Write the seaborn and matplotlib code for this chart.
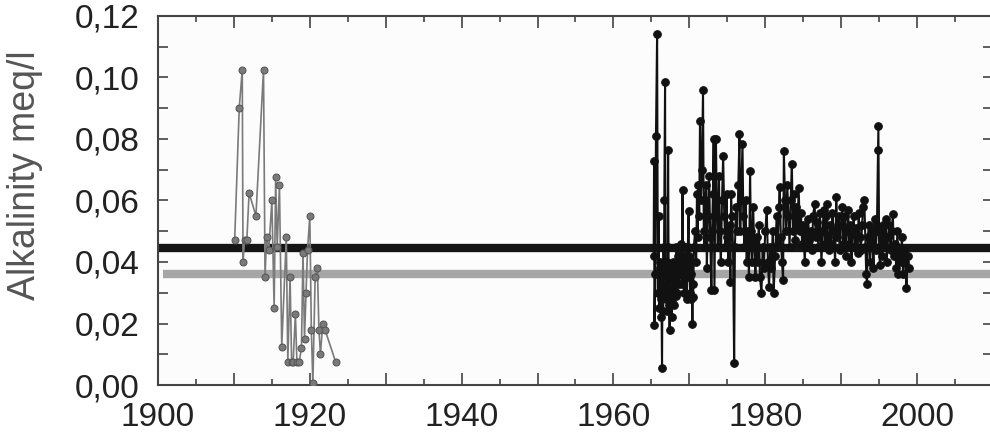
import numpy as np
import pandas as pd
import matplotlib
matplotlib.use("Agg")
import matplotlib.pyplot as plt
import matplotlib.ticker as mticker
import seaborn as sns

# ---- data ----
early_years = [1910.1, 1910.7, 1911.1, 1911.2, 1911.4, 1911.7, 1912.0, 1912.9, 1913.9, 1914.1,
               1914.3, 1914.6, 1915.0, 1915.3, 1915.5, 1915.7, 1916.0, 1916.3, 1916.9, 1917.1,
               1917.4, 1917.6, 1917.8, 1918.1, 1918.3, 1918.6, 1918.9, 1919.1, 1919.3, 1919.5,
               1919.7, 1920.0, 1920.2, 1920.4, 1920.7, 1921.0, 1921.2, 1921.4, 1921.7, 1922.0, 1923.4]
early_vals = [0.047, 0.090, 0.1025, 0.040, 0.047, 0.047, 0.0625, 0.055, 0.1025, 0.035,
              0.048, 0.044, 0.060, 0.025, 0.0675, 0.045, 0.065, 0.0125, 0.048, 0.0075,
              0.035, 0.0075, 0.0075, 0.023, 0.0075, 0.0075, 0.012, 0.043, 0.015, 0.030,
              0.044, 0.055, 0.018, 0.0005, 0.035, 0.038, 0.018, 0.010, 0.020, 0.018, 0.0075]

late_years = [1965.3, 1965.35, 1965.4, 1965.5, 1965.6, 1965.75, 1965.85, 1965.95,
              1966.0, 1966.05, 1966.1, 1966.15, 1966.2, 1966.25, 1966.3, 1966.4, 1966.45, 1966.5,
              1966.55, 1966.6, 1966.65, 1966.7, 1966.8, 1966.85, 1966.9, 1966.95, 1967.0, 1967.05,
              1967.1, 1967.2, 1967.25, 1967.3, 1967.35, 1967.4, 1967.45, 1967.5, 1967.55, 1967.6,
              1967.65, 1967.7, 1967.75, 1967.8, 1967.85, 1967.9, 1967.95, 1968.0, 1968.05, 1968.1,
              1968.2, 1968.25, 1968.3, 1968.4, 1968.45, 1968.55, 1968.6, 1968.7, 1968.75, 1968.85,
              1968.9, 1969.0, 1969.1, 1969.15, 1969.2, 1969.3, 1969.35, 1969.45, 1969.5, 1969.55,
              1969.65, 1969.7, 1969.8, 1969.9, 1969.95, 1970.0, 1970.1, 1970.15, 1970.2, 1970.3,
              1970.4, 1970.45, 1970.5, 1970.6, 1970.75, 1970.9,
              1971.0, 1971.1, 1971.2, 1971.3, 1971.4, 1971.5, 1971.65, 1971.8, 1971.9, 1972.0,
              1972.1, 1972.2, 1972.3, 1972.45, 1972.6, 1972.75, 1972.9, 1973.0, 1973.1, 1973.2,
              1973.3, 1973.4, 1973.5, 1973.6, 1973.75, 1973.9, 1974.0, 1974.15, 1974.3, 1974.45,
              1974.6, 1974.75, 1974.9, 1975.0, 1975.15, 1975.3, 1975.4, 1975.5, 1975.6, 1975.75,
              1975.9, 1976.0, 1976.15, 1976.3, 1976.45, 1976.6, 1976.7, 1976.8, 1977.0, 1977.1,
              1977.25, 1977.4, 1977.55, 1977.7, 1977.85, 1978.0, 1978.1, 1978.25, 1978.4, 1978.55,
              1978.7, 1978.85, 1979.0, 1979.15, 1979.3, 1979.5, 1979.65, 1979.8, 1980.0, 1980.2,
              1980.35, 1980.5, 1980.65, 1980.8, 1981.0, 1981.1, 1981.3, 1981.5, 1981.65, 1981.8,
              1981.9, 1982.05, 1982.2, 1982.35, 1982.45, 1982.6, 1982.75, 1982.9, 1983.05, 1983.2,
              1983.35, 1983.5, 1983.65, 1983.8, 1983.95, 1984.1, 1984.25, 1984.4, 1984.55, 1984.7,
              1984.85, 1985.0, 1985.2, 1985.35, 1985.5, 1985.65, 1985.8, 1986.0, 1986.15, 1986.3,
              1986.5, 1986.65, 1986.8, 1987.0, 1987.2, 1987.4, 1987.55, 1987.7, 1987.85, 1988.0,
              1988.1, 1988.25, 1988.4, 1988.55, 1988.7, 1988.85, 1989.0, 1989.2, 1989.35, 1989.5,
              1989.65, 1989.8, 1990.0, 1990.15, 1990.3, 1990.45, 1990.6, 1990.75, 1990.9, 1991.05,
              1991.2, 1991.35, 1991.5, 1991.65, 1991.8, 1992.0, 1992.15, 1992.3, 1992.45, 1992.6,
              1992.75, 1992.9, 1993.05, 1993.2, 1993.3, 1993.4, 1993.5, 1993.65, 1993.8, 1993.95,
              1994.1, 1994.25, 1994.4, 1994.55, 1994.7, 1994.85, 1994.9, 1995.0, 1995.1, 1995.25,
              1995.4, 1995.55, 1995.7, 1995.85, 1996.0, 1996.15, 1996.3, 1996.5, 1996.65, 1996.8,
              1996.95, 1997.1, 1997.25, 1997.4, 1997.55, 1997.7, 1997.85, 1998.0, 1998.15, 1998.3,
              1998.45, 1998.6, 1998.75, 1998.9]
late_vals = [0.042, 0.073, 0.0195, 0.036, 0.081, 0.114, 0.030, 0.055,
             0.030, 0.025, 0.040, 0.038, 0.028, 0.022, 0.035, 0.0055, 0.032, 0.030,
             0.024, 0.045, 0.036, 0.060, 0.0985, 0.040, 0.028, 0.033, 0.040, 0.030,
             0.024, 0.0765, 0.045, 0.032, 0.026, 0.018, 0.030, 0.028, 0.038, 0.035,
             0.027, 0.022, 0.033, 0.030, 0.036, 0.040, 0.031, 0.026, 0.038, 0.034,
             0.029, 0.045, 0.036, 0.030, 0.042, 0.040, 0.033, 0.036, 0.044, 0.046,
             0.038, 0.033, 0.0635, 0.040, 0.042, 0.035, 0.030, 0.040, 0.038, 0.045,
             0.028, 0.036, 0.045, 0.0565, 0.042, 0.035, 0.030, 0.028, 0.036, 0.040,
             0.020, 0.033, 0.0285, 0.045, 0.050, 0.040,
             0.062, 0.048, 0.065, 0.055, 0.086, 0.060, 0.070, 0.096, 0.050, 0.045,
             0.060, 0.065, 0.038, 0.055, 0.068, 0.048, 0.031, 0.050, 0.062, 0.080,
             0.031, 0.055, 0.080, 0.060, 0.045, 0.068, 0.050, 0.040, 0.060, 0.0745,
             0.055, 0.045, 0.062, 0.048, 0.040, 0.052, 0.0335, 0.062, 0.055, 0.045,
             0.007, 0.045, 0.058, 0.050, 0.065, 0.0815, 0.050, 0.060, 0.0785, 0.055,
             0.045, 0.060, 0.040, 0.050, 0.035, 0.0695, 0.050, 0.040, 0.058, 0.045,
             0.035, 0.048, 0.040, 0.052, 0.035, 0.030, 0.045, 0.038, 0.050, 0.057,
             0.040, 0.032, 0.045, 0.038, 0.050, 0.030, 0.042, 0.055, 0.046, 0.058,
             0.0645, 0.048, 0.040, 0.034, 0.076, 0.060, 0.050, 0.065, 0.055, 0.045,
             0.060, 0.072, 0.050, 0.062, 0.047, 0.058, 0.052, 0.064, 0.050, 0.056,
             0.046, 0.052, 0.040, 0.050, 0.045, 0.054, 0.047, 0.050, 0.044, 0.055,
             0.059, 0.048, 0.053, 0.045, 0.056, 0.040, 0.050, 0.057, 0.046, 0.055,
             0.059, 0.048, 0.044, 0.052, 0.046, 0.056, 0.050, 0.040, 0.061, 0.048,
             0.055, 0.044, 0.052, 0.058, 0.046, 0.055, 0.042, 0.050, 0.057, 0.046,
             0.052, 0.040, 0.049, 0.055, 0.045, 0.051, 0.043, 0.056, 0.048, 0.044,
             0.052, 0.058, 0.060, 0.045, 0.036, 0.033, 0.048, 0.052, 0.040, 0.046,
             0.050, 0.038, 0.054, 0.044, 0.050, 0.0765, 0.0842, 0.045, 0.039, 0.050,
             0.042, 0.052, 0.046, 0.054, 0.040, 0.048, 0.052, 0.044, 0.050, 0.0555,
             0.042, 0.046, 0.038, 0.050, 0.036, 0.044, 0.040, 0.048, 0.036, 0.044,
             0.040, 0.0315, 0.042, 0.038]

late_mean = 0.0445
early_mean = 0.0361
x_ticks = [1900, 1920, 1940, 1960, 1980, 2000]
y_ticks = [0.00, 0.02, 0.04, 0.06, 0.08, 0.10, 0.12]
y_label = "Alkalinity meq/l"

# ---- plot ----
sns.set_style("ticks")
plt.rcParams['font.family'] = ['Liberation Sans', 'DejaVu Sans']

fig = plt.figure(figsize=(9.9, 4.36), dpi=100)
ax = fig.add_axes([158 / 990, 51 / 436, 835 / 990, 369 / 436])
ax.set_facecolor('#fcfcfc')

ax.axhline(late_mean, color='#151515', lw=6.0, zorder=2)
ax.plot([1900.7, 2010], [early_mean, early_mean], color='#a6a6a6', lw=6.0, zorder=2,
        solid_capstyle='butt')

df_early = pd.DataFrame({'year': early_years, 'val': early_vals})
df_late = pd.DataFrame({'year': late_years, 'val': late_vals})

sns.lineplot(data=df_early, x='year', y='val', ax=ax, sort=False, estimator=None,
             color='#7a7a7a', lw=1.2, marker='o', markersize=5,
             markeredgecolor='#555555', markerfacecolor='#7a7a7a', zorder=3)
sns.lineplot(data=df_late, x='year', y='val', ax=ax, sort=False, estimator=None,
             color='#111111', lw=1.5, marker='o', markersize=5.5,
             markeredgecolor='#111111', markerfacecolor='#111111', zorder=3)

ax.set_xlim(1900, 2010)
ax.set_ylim(0, 0.12)

ax.xaxis.set_major_locator(mticker.MultipleLocator(10))
ax.xaxis.set_minor_locator(mticker.MultipleLocator(5))
ax.xaxis.set_major_formatter(mticker.FuncFormatter(
    lambda v, p: f"{int(round(v))}" if int(round(v)) in x_ticks else ""))
ax.set_yticks(y_ticks)
ax.yaxis.set_minor_locator(mticker.MultipleLocator(0.01))
ax.yaxis.set_major_formatter(mticker.FuncFormatter(lambda v, p: f"{v:.2f}".replace('.', ',')))

ax.tick_params(axis='both', which='both', direction='in', top=True, right=True,
               color='#444444', width=1.2)
ax.tick_params(axis='x', which='major', length=8.5, pad=12, labelsize=24, labelcolor='#222222')
ax.tick_params(axis='x', which='minor', length=4)
ax.tick_params(axis='y', which='major', length=7, pad=13, labelsize=24, labelcolor='#222222')
ax.tick_params(axis='y', which='minor', length=7)

for s in ax.spines.values():
    s.set_color('#444444')
    s.set_linewidth(1.5)

ax.set_xlabel("")
ax.set_ylabel(y_label, fontsize=27, color='#555555')
ax.yaxis.set_label_coords(-0.138, 0.569)

fig.savefig("out.png", dpi=100, facecolor='white')
